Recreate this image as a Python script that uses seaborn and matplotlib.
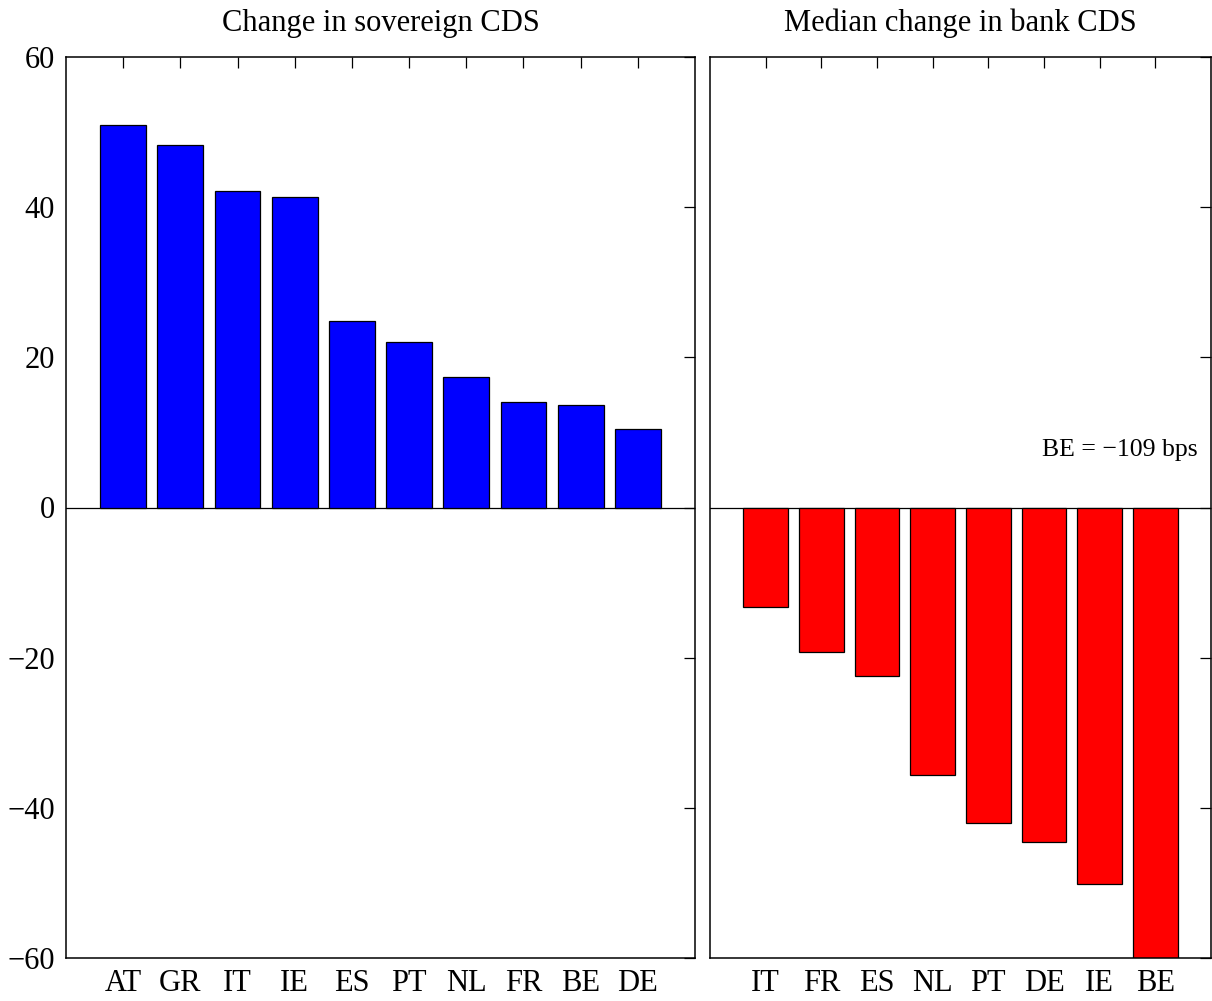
import matplotlib
matplotlib.use("Agg")
import matplotlib.pyplot as plt
import seaborn as sns
import pandas as pd

# Sovereign CDS changes (bps)
sov_countries = ["AT", "GR", "IT", "IE", "ES", "PT", "NL", "FR", "BE", "DE"]
sov_change = [50.9, 48.3, 42.2, 41.3, 24.8, 22.0, 17.4, 14.1, 13.6, 10.5]

# Median bank CDS changes (bps)
bank_countries = ["IT", "FR", "ES", "NL", "PT", "DE", "IE", "BE"]
bank_change = [-13.2, -19.3, -22.4, -35.6, -42.0, -44.5, -50.2, -109.0]

y_ticks = [-60, -40, -20, 0, 20, 40, 60]

sns.set_theme(style="white")
plt.rcParams["font.family"] = ["Liberation Serif", "DejaVu Serif"]
plt.rcParams["axes.unicode_minus"] = True
plt.rcParams["text.color"] = "black"

fig = plt.figure(figsize=(12.12, 10.01), dpi=100)
ax1 = fig.add_axes([66 / 1212, 43 / 1001, 629 / 1212, 901 / 1001])
ax2 = fig.add_axes([710 / 1212, 43 / 1001, 501 / 1212, 901 / 1001])

df_sov = pd.DataFrame({"country": sov_countries, "change": sov_change})
df_bank = pd.DataFrame({"country": bank_countries, "change": bank_change})

sns.barplot(data=df_sov, x="country", y="change", order=sov_countries,
            color="#0000ff", saturation=1, edgecolor="black", linewidth=0.9,
            width=0.8, ax=ax1)
sns.barplot(data=df_bank, x="country", y="change", order=bank_countries,
            color="#ff0000", saturation=1, edgecolor="black", linewidth=0.9,
            width=0.8, ax=ax2)

for ax, n, title in [(ax1, len(sov_countries), "Change in sovereign CDS"),
                     (ax2, len(bank_countries), "Median change in bank CDS")]:
    ax.set_xlim(-1, n)
    ax.set_ylim(-60, 60)
    ax.set_yticks(y_ticks)
    ax.axhline(0, color="black", linewidth=0.9, zorder=0.5)
    ax.set_xlabel("")
    ax.set_ylabel("")
    ax.set_title(title, fontsize=22, pad=19, color="black")
    ax.tick_params(direction="in", length=8, width=0.9, top=True, right=True,
                   labelsize=22, pad=8, colors="black")
    for sp in ax.spines.values():
        sp.set_visible(True)
        sp.set_color("black")
        sp.set_linewidth(1.1)

ax2.tick_params(labelleft=False)

ax2.text(0.974, (7.7 + 60) / 120, "BE = \u2212109 bps", transform=ax2.transAxes,
         ha="right", va="center", fontsize=18.5, color="black")

fig.savefig("out.png", dpi=100, facecolor="white")
